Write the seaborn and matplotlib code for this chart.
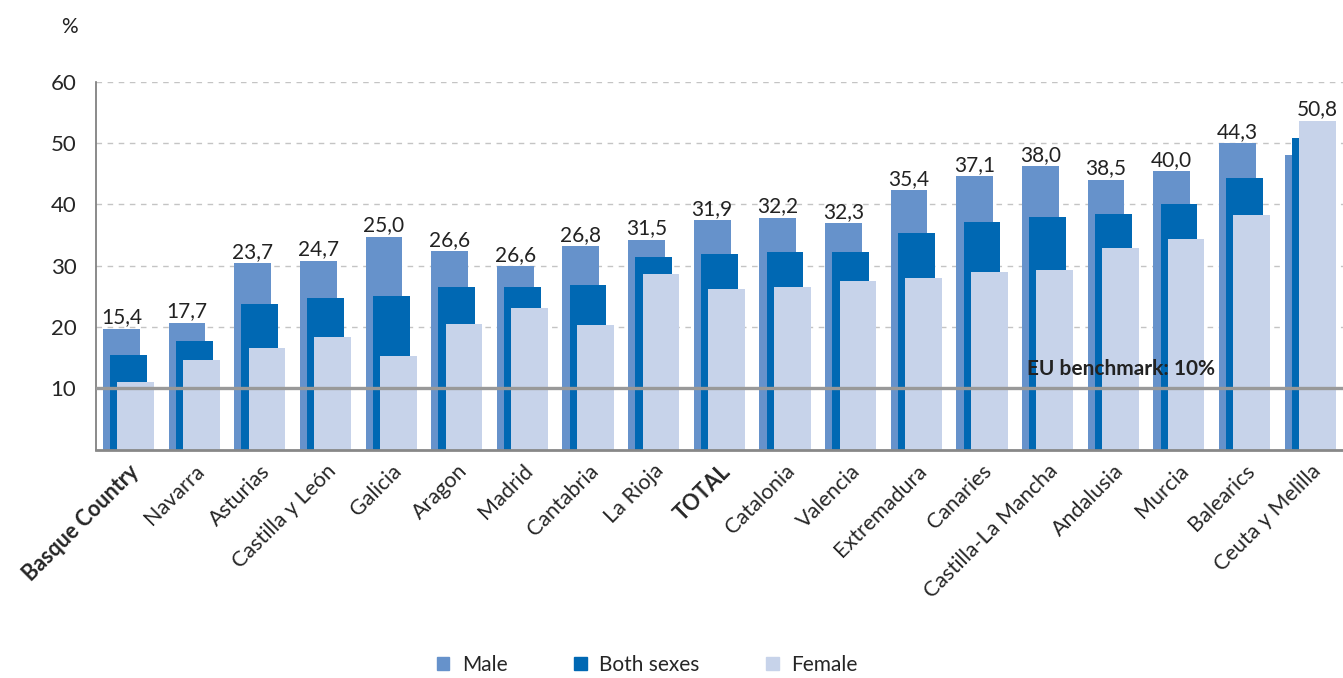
import matplotlib
matplotlib.use("Agg")
import matplotlib.pyplot as plt
import matplotlib.patches as mpatches
import seaborn as sns
import numpy as np
import pandas as pd

# Datos
regions = ["Basque Country", "Navarra", "Asturias", "Castilla y León", "Galicia",
           "Aragon", "Madrid", "Cantabria", "La Rioja", "TOTAL", "Catalonia",
           "Valencia", "Extremadura", "Canaries", "Castilla-La Mancha",
           "Andalusia", "Murcia", "Balearics", "Ceuta y Melilla"]
male = [19.7, 20.7, 30.4, 30.8, 34.7, 32.4, 29.9, 33.2, 34.2, 37.4,
        37.8, 36.9, 42.3, 44.6, 46.2, 44.0, 45.4, 50.0, 48.0]
both = [15.4, 17.7, 23.7, 24.7, 25.0, 26.6, 26.6, 26.8, 31.5, 31.9,
        32.2, 32.3, 35.4, 37.1, 38.0, 38.5, 40.0, 44.3, 50.8]
female = [11.0, 14.6, 16.6, 18.4, 15.3, 20.5, 23.1, 20.3, 28.6, 26.2,
          26.5, 27.5, 28.0, 29.0, 29.3, 32.9, 34.3, 38.3, 53.6]
benchmark = 10

sns.set_style("white")
plt.rcParams['font.family'] = ['Lato', 'DejaVu Sans']

c_male, c_both, c_female = "#6692CB", "#0068B3", "#C7D3EA"
idx = np.arange(len(regions))
df = pd.DataFrame({"pos": idx, "Male": male, "Both sexes": both, "Female": female})

fig = plt.figure(figsize=(13.43, 6.78), dpi=100)
ax = fig.add_axes([0.0713, 0.3367, 0.9287, 0.5428])

off = 0.11
for col, shift, color in [("Male", -off, c_male), ("Both sexes", 0, c_both), ("Female", off, c_female)]:
    sns.barplot(x=df["pos"] + shift, y=df[col], native_scale=True, orient="x",
                width=0.56, color=color, saturation=1, linewidth=0, errorbar=None,
                ax=ax, zorder=2)

# etiquetas de valor (ambos sexos) sobre la barra más alta
for i in idx:
    vals = [male[i], both[i], female[i]]
    k = int(np.argmax(vals))
    xpos = i + [-off, 0, off][k]
    ax.annotate(f"{both[i]:.1f}".replace(".", ","), (xpos, max(vals)),
                xytext=(0, 1), textcoords="offset points", ha="center", va="bottom",
                fontsize=15, color="#222222", zorder=4)

# línea de referencia UE
ax.axhline(benchmark, color="#999999", lw=2.4, zorder=3)
ax.annotate("EU benchmark: 10%", (13.69, benchmark), xytext=(0, 7), textcoords="offset points",
            ha="left", va="bottom", fontsize=15, fontweight="bold", color="#222222", zorder=4)

ax.set_xlim(-0.5, len(regions) - 0.5)
ax.set_ylim(0, 60)
ax.set_yticks(range(0, 61, 10))
ax.set_yticklabels([""] + [str(v) for v in range(10, 61, 10)])
ax.yaxis.grid(True, linestyle=(0, (4, 4)), color="#c4c4c4", lw=1)
ax.xaxis.grid(False)
ax.set_axisbelow(True)

ax.set_xticks(idx)
ax.set_xticklabels(regions, rotation=45, ha="right", rotation_mode="anchor", fontsize=15.5)
for lab in ax.get_xticklabels():
    if lab.get_text() in ("Basque Country", "TOTAL"):
        lab.set_fontweight("bold")
ax.set_xticks(np.arange(0.5, len(regions) - 0.5, 1), minor=True)
ax.tick_params(axis="x", which="major", length=0, pad=8)
ax.tick_params(axis="x", which="minor", length=6, width=1, color="#555555", direction="out")
ax.tick_params(axis="y", length=8, width=1, color="#555555", direction="out", labelsize=16, pad=6)
ax.set_xlabel("")
ax.set_ylabel("")

for s in ["top", "right"]:
    ax.spines[s].set_visible(False)
ax.spines["left"].set_color("#777777")
ax.spines["left"].set_linewidth(1.2)
ax.spines["bottom"].set_color("#888888")
ax.spines["bottom"].set_linewidth(2)

fig.text(0.052, 0.96, "%", fontsize=15, ha="center", va="center", color="#222222")

handles = [mpatches.Patch(color=c) for c in (c_male, c_both, c_female)]
fig.legend(handles, ["Male", "Both sexes", "Female"], loc="center", bbox_to_anchor=(0.482, 0.019),
           ncol=3, frameon=False, fontsize=15, handlelength=0.6, handleheight=0.6,
           handletextpad=0.6, columnspacing=3.2)

fig.savefig("out.png", dpi=100)
